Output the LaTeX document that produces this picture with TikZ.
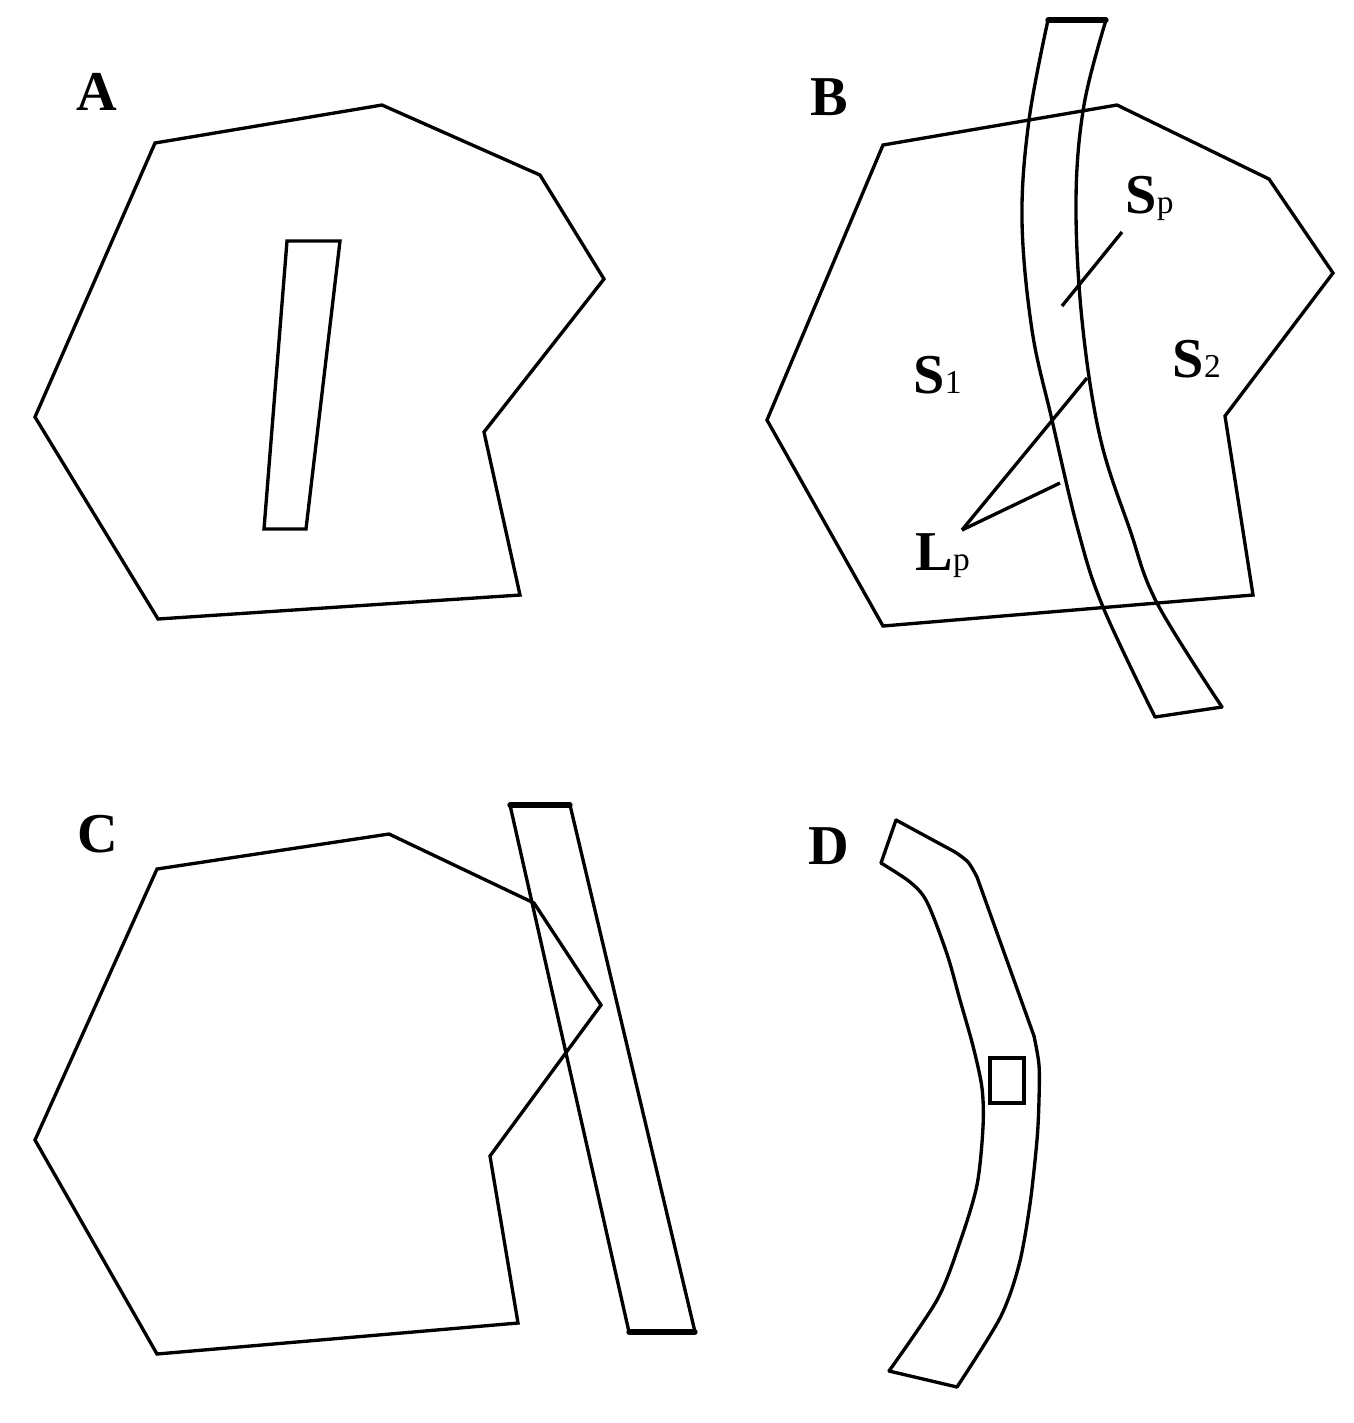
\documentclass[tikz,border=0pt]{standalone}
\usepackage{fontspec}
\setmainfont{Liberation Serif}
\begin{document}
\begin{tikzpicture}[x=0.01cm,y=-0.01cm,
  outline/.style={line width=0.95pt,line join=miter,line cap=round},
  heavy/.style={line width=1.5pt,line cap=round},
  leader/.style={line width=0.95pt},
  panel/.style={font=\fontsize{16}{16}\selectfont\bfseries,inner sep=0pt,anchor=base},
  region/.style={inner sep=0pt,anchor=base west}]
\useasboundingbox (0,0) rectangle (1353,1423);
\newcommand{\lbl}[2]{{\fontsize{16}{16}\selectfont\bfseries #1}{\fontsize{9.5}{9.5}\selectfont #2}}

% ---------- Panel A ----------
\node[panel] (labA) at (97,110) {A};
\draw[outline] (155,143) -- (382,105) -- (540,175) -- (604,279) -- (484,432)
  -- (520,595) -- (158,619) -- (35,417) -- cycle;
\draw[outline] (287,241) -- (340,241) -- (306,529) -- (264,529) -- cycle;

% ---------- Panel B ----------
\node[panel] (labB) at (829,115) {B};
\draw[outline] (883,145) -- (1117,105) -- (1269,179) -- (1333,273) -- (1225,416)
  -- (1253,595) -- (883,626) -- (767,420) -- cycle;
\draw[outline] plot[smooth,tension=0.6] coordinates {(1048,20) (1029,120) (1022,220)
  (1032,330) (1052,420) (1078,530) (1103,607) (1155,717)};
\draw[outline] plot[smooth,tension=0.6] coordinates {(1106,20) (1084,105) (1076,200)
  (1082,320) (1100,437) (1130,530) (1157,603) (1222,707)};
\draw[heavy] (1048,20) -- (1106,20);
\draw[outline] (1155,717) -- (1222,707);

\node[region] (Sp) at (1125,213) {\lbl{S}{p}};
\node[region] (S1) at (913,393) {\lbl{S}{1}};
\node[region] (S2) at (1172,377) {\lbl{S}{2}};
\node[region] (Lp) at (915,570) {\lbl{L}{p}};
\coordinate (spA) at (1122,232);
\coordinate (spB) at (1062,306);
\coordinate (lpO) at (962,530);
\coordinate (lpA) at (1087,378);
\coordinate (lpB) at (1060,483);
\draw[leader] (spA) -- (spB);
\draw[leader] (lpO) -- (lpA);
\draw[leader] (lpO) -- (lpB);

% ---------- Panel C ----------
\node[panel] (labC) at (98,852) {C};
\draw[outline] (157,869) -- (389,834) -- (534,903) -- (601,1005) -- (490,1156)
  -- (518,1323) -- (157,1354) -- (35,1140) -- cycle;
\draw[outline] (510,805) -- (570,805) -- (695,1332) -- (629,1332) -- cycle;
\draw[heavy] (510,805) -- (570,805);
\draw[heavy] (629,1332) -- (695,1332);

% ---------- Panel D ----------
\node[panel] (labD) at (829,864) {D};
\draw[outline] plot[smooth,tension=0.5] coordinates {(881,863) (910,882) (927,902) (947,954)
  (960,1000) (973,1046) (982,1088) (983,1127) (977,1185) (960,1242) (937,1300) (889,1371)};
\draw[outline] (896,820) -- (955,852);
\draw[outline] plot[smooth,tension=0.5] coordinates {(955,852) (968,862) (977,877)};
\draw[outline] (977,877) -- (1034,1036);
\draw[outline] plot[smooth,tension=0.5] coordinates {(1034,1036) (1039,1065) (1039,1100) (1037,1140)
  (1030,1204) (1019,1265) (1000,1318) (957,1387)};
\draw[outline] (896,820) -- (881,863);
\draw[outline] (889,1371) -- (957,1387);
\draw[outline] (990,1058) rectangle (1024,1103);
\end{tikzpicture}
\end{document}
